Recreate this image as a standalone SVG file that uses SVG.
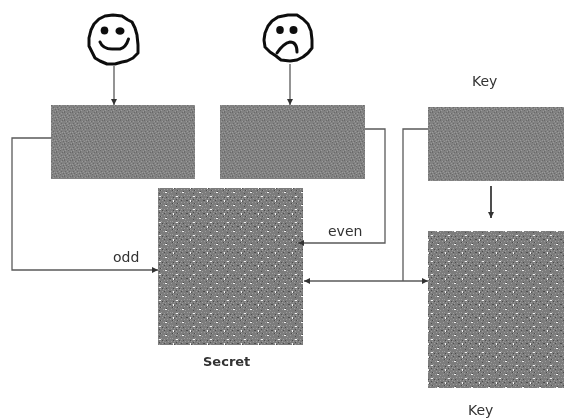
<svg xmlns="http://www.w3.org/2000/svg" width="564" height="419" viewBox="0 0 564 419">
<style>
.c{fill:none;stroke:#5a5a5a;stroke-width:1.3}
.f{fill:none;stroke:#111;stroke-width:3;stroke-linecap:round;stroke-linejoin:round}
.e{fill:#111}
.t{font-family:"DejaVu Sans",Verdana,sans-serif;font-size:14px;fill:#333}
.m{fill:url(#fine)}
.n{fill:url(#coarse)}
.b{filter:url(#soft)}
</style>
<defs>
<filter id="soft" x="-5%" y="-5%" width="110%" height="110%"><feGaussianBlur stdDeviation="0.45"/></filter>
<pattern id="fine" width="8" height="8" patternUnits="userSpaceOnUse">
<rect width="8" height="8" fill="#828282"/>
<path d="M0 0h1v1h-1zM3 1h1v1h-1zM6 0h1v1h-1zM1 3h1v1h-1zM5 3h1v1h-1zM2 5h1v1h-1zM7 5h1v1h-1zM4 6h1v1h-1zM0 7h1v1h-1z" fill="#6b6b6b"/>
<path d="M2 1h1v1h-1zM5 1h1v1h-1zM0 4h1v1h-1zM3 3h1v1h-1zM6 4h1v1h-1zM4 5h1v1h-1zM1 6h1v1h-1zM7 7h1v1h-1z" fill="#9a9a9a"/>
</pattern>
<pattern id="coarse" width="17" height="13" patternUnits="userSpaceOnUse">
<rect width="17" height="13" fill="#7c7c7c"/>
<path d="M0 0h1v1h-1zM2 0h1v1h-1zM5 1h1v1h-1zM8 0h1v1h-1zM11 1h1v1h-1zM14 0h1v1h-1zM1 3h1v1h-1zM4 3h1v1h-1zM7 3h1v1h-1zM10 3h1v1h-1zM15 3h1v1h-1zM12 4h1v1h-1zM2 5h1v1h-1zM6 6h1v1h-1zM9 5h1v1h-1zM0 7h1v1h-1zM3 8h1v1h-1zM8 8h1v1h-1zM11 7h1v1h-1zM14 7h1v1h-1zM5 9h1v1h-1zM1 10h1v1h-1zM10 10h1v1h-1zM15 11h1v1h-1z" fill="#9c9c9c"/>
<path d="M3 2h1v1h-1zM9 2h1v1h-1zM13 2h1v1h-1zM6 4h1v1h-1zM0 5h1v1h-1zM11 5h1v1h-1zM16 5h1v1h-1zM4 6h1v1h-1zM7 8h1v1h-1zM2 8h1v1h-1zM13 9h1v1h-1zM6 11h1v1h-1z" fill="#4e4e4e"/>
<path d="M6 1h2v1h-2zM3 5h1v2h-1zM12 10h2v1h-2z" fill="#f4f4f4"/>
</pattern>
<marker id="ah" markerWidth="7" markerHeight="6" refX="6" refY="3" orient="auto-start-reverse" markerUnits="userSpaceOnUse"><path d="M0 0L6 3L0 6z" fill="#333"/></marker>
</defs>
<rect width="564" height="419" fill="#fff"/>
<g id="box-happy"><rect class="m b" x="51" y="105" width="144" height="74"/></g>
<g id="box-sad"><rect class="m b" x="220" y="105" width="145" height="74"/></g>
<g id="box-key"><rect class="m b" x="428" y="107" width="136" height="74"/></g>
<g id="box-secret"><rect class="n b" x="158" y="188" width="145" height="157"/></g>
<g id="box-key-large"><rect class="n b" x="428" y="231" width="136" height="157"/></g>
<g id="connectors">
<path class="c" d="M114 66V105" marker-end="url(#ah)"/>
<path class="c" d="M290 64V105" marker-end="url(#ah)"/>
<path class="c" d="M51 138H12V270H158" marker-end="url(#ah)"/>
<path class="c" d="M365 129H385V243H298" marker-end="url(#ah)"/>
<path class="c" d="M428 129H403V281"/>
<path class="c" d="M304 281H428" marker-start="url(#ah)" marker-end="url(#ah)"/>
<path d="M491 186V218" fill="none" stroke="#222" stroke-width="1.6" marker-end="url(#ah)"/>
</g>
<g id="happy-face" class="b">
<path class="f" d="M113 15L122 16L128 20L132 22L135 28L137 35L138 45L138 53L133 58L127 61L122 62L115 64L107 64L100 61L95 58L92 52L89 46L89 38L91 30L94 24L99 19L105 16Z"/>
<ellipse class="e" cx="104.500" cy="30.500" rx="3.800" ry="4"/>
<ellipse class="e" cx="120" cy="31" rx="4.500" ry="3.800"/>
<path class="f" d="M100 42C102 47 106 49 112 49L120 49C124 48 127 44 128.500 39"/>
</g>
<g id="sad-face" class="b">
<path class="f" d="M288 15L297 15L303 19L308 24L311 31L312 40L312 48L308 53L303 57L297 60L290 61L281 60L276 56L270 52L265 47L264 40L265 33L268 26L272 21L278 17Z"/>
<ellipse class="e" cx="280" cy="30" rx="3.800" ry="4"/>
<ellipse class="e" cx="293.500" cy="30" rx="4" ry="4"/>
<path class="f" d="M277 53C281 47 285 43 290 42C295 42 297 46 297 52"/>
</g>
<g id="labels" class="b">
<text class="t" x="113" y="262">odd</text>
<text class="t" x="328" y="236">even</text>
<text class="t" x="472" y="86">Key</text>
<text class="t" x="203" y="366" font-weight="bold" style="font-size:13px">Secret</text>
<text class="t" x="468" y="415">Key</text>
</g>
</svg>
